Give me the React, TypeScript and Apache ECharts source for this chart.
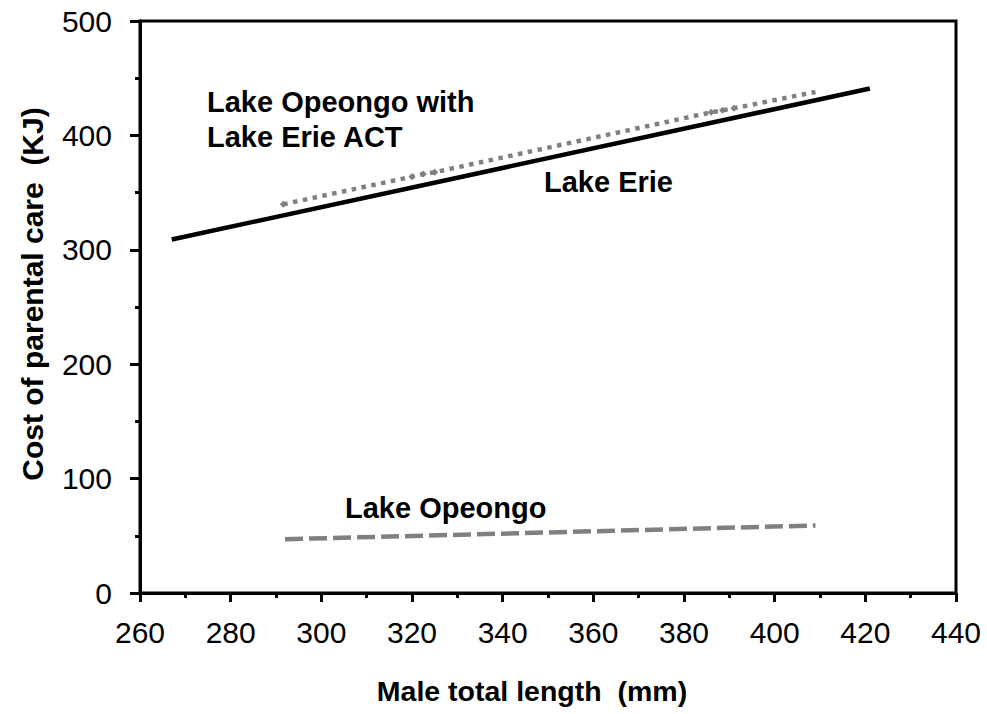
import React, { useEffect, useRef } from "react";
import * as echarts from "echarts";

const xTicks = { min: 260, max: 440, interval: 20 };
const yTicks = { min: 0, max: 500, interval: 100 };

// Lake Erie (solid black)
const erieX = [267, 421];
const erieY = [309, 441];

// Lake Opeongo with Lake Erie ACT (grey dotted)
const actX = [291.6, 320, 322.5, 325, 386, 388.5, 391, 409];
const actY = [339.8, 363.9, 366.3, 367.8, 420.2, 421.9, 423.7, 438];

// Lake Opeongo (grey dashed)
const opeX = [292, 409];
const opeY = [47, 59];

const FONT = "'Liberation Sans', Arial, Helvetica, sans-serif";

export default function App() {
  const ref = useRef<HTMLDivElement>(null);
  useEffect(() => {
    if (!ref.current) return;
    const chart = echarts.init(ref.current, null, { renderer: "svg" });
    const zip = (xs: number[], ys: number[]) => xs.map((x, i) => [x, ys[i]]);
    const actData = actX.map((x, i) => ({
      value: [x, actY[i]],
      symbol: i === actX.length - 1 ? "none" : "diamond",
    }));
    const label = (text: string, x: number, y: number, size: number, align = "left", rotation = 0) => ({
      type: "text",
      x,
      y,
      rotation,
      style: {
        text,
        font: `bold ${size}px ${FONT}`,
        fill: "#000",
        textAlign: align,
        textVerticalAlign: "middle",
      },
    });
    chart.setOption({
      animation: false,
      backgroundColor: "#fff",
      grid: {
        left: 140,
        right: 31,
        top: 21,
        bottom: 121,
        show: true,
        borderColor: "#000",
        borderWidth: 3,
        backgroundColor: "transparent",
      },
      xAxis: {
        type: "value",
        min: xTicks.min,
        max: xTicks.max,
        interval: xTicks.interval,
        axisLine: { show: true, lineStyle: { color: "#000", width: 3 } },
        axisTick: { show: true, length: 9, lineStyle: { color: "#000", width: 3 } },
        minorTick: { show: true, splitNumber: 2, length: 5, lineStyle: { color: "#000", width: 3 } },
        splitLine: { show: false },
        axisLabel: { color: "#000", fontSize: 30, fontFamily: FONT, margin: 24 },
      },
      yAxis: {
        type: "value",
        min: yTicks.min,
        max: yTicks.max,
        interval: yTicks.interval,
        axisLine: { show: true, lineStyle: { color: "#000", width: 3 } },
        axisTick: { show: true, length: 10, lineStyle: { color: "#000", width: 3 } },
        minorTick: { show: true, splitNumber: 2, length: 5, lineStyle: { color: "#000", width: 3 } },
        splitLine: { show: false },
        axisLabel: { color: "#000", fontSize: 30, fontFamily: FONT, margin: 28 },
      },
      series: [
        {
          type: "line",
          name: "Lake Erie",
          data: zip(erieX, erieY),
          symbol: "none",
          lineStyle: { color: "#000", width: 4.5 },
          z: 3,
        },
        {
          type: "line",
          name: "Lake Opeongo with Lake Erie ACT",
          data: actData,
          symbolSize: 7,
          itemStyle: { color: "#808080" },
          lineStyle: { color: "#808080", width: 4.5, type: [4.5, 5.5] },
          z: 2,
        },
        {
          type: "line",
          name: "Lake Opeongo",
          data: zip(opeX, opeY),
          symbol: "none",
          lineStyle: { color: "#808080", width: 4.5, type: [18, 6] },
          z: 2,
        },
      ],
      graphic: [
        label("Lake Opeongo with", 207, 102, 29),
        label("Lake Erie ACT", 207, 137, 29),
        label("Lake Erie", 544, 182, 29),
        label("Lake Opeongo", 345, 508, 29),
        label("Male total length  (mm)", 532, 691, 28.5, "center"),
        label("Cost of parental care  (KJ)", 32, 294, 30, "center", Math.PI / 2),
      ],
    });
    return () => chart.dispose();
  }, []);
  return <div ref={ref} style={{ width: 987, height: 714, position: "absolute", left: 0, top: 0 }} />;
}
